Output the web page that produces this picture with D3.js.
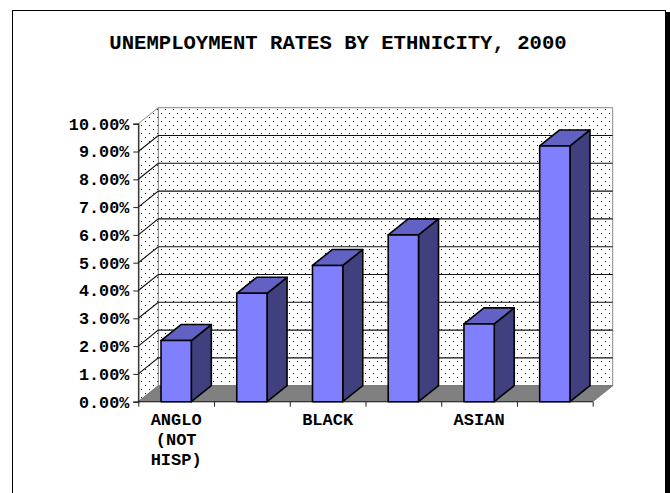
<!DOCTYPE html>
<html>
<head>
<meta charset="utf-8">
<script src="https://cdn.jsdelivr.net/npm/d3@7"></script>
<style>
  html, body { margin: 0; padding: 0; background: #fff; }
  svg { display: block; }
  text { font-family: "Liberation Mono", "Courier New", monospace; font-weight: bold; fill: #000; }
</style>
</head>
<body>
<script>
// Unemployment rate per ethnic group (fraction), in drawing order
const rates = [0.022, 0.039, 0.049, 0.060, 0.028, 0.092];
// Category axis labels (one list of lines per column; empty = label not shown)
const categoryLabels = [["ANGLO", "(NOT", "HISP)"], [], ["BLACK"], [], ["ASIAN"], []];
// Value axis ticks
const yTicks = [0, 0.01, 0.02, 0.03, 0.04, 0.05, 0.06, 0.07, 0.08, 0.09, 0.10];
const title = "UNEMPLOYMENT RATES BY ETHNICITY, 2000";

const W = 670, H = 493;
const depthX = 20, depthY = -16;   // oblique offset of the back plane

const svg = d3.select("body").append("svg").attr("width", W).attr("height", H);

// dotted fill for the walls
const defs = svg.append("defs");
const pat = defs.append("pattern").attr("id", "dots")
  .attr("patternUnits", "userSpaceOnUse").attr("width", 8).attr("height", 8);
pat.append("rect").attr("width", 8).attr("height", 8).attr("fill", "#fff");
pat.append("rect").attr("x", 1).attr("y", 1).attr("width", 1).attr("height", 1).attr("fill", "#111");
pat.append("rect").attr("x", 5).attr("y", 5).attr("width", 1).attr("height", 1).attr("fill", "#111");

// chart frame with shadow on the right
svg.append("rect").attr("x", 666).attr("y", 12).attr("width", 4).attr("height", H).attr("fill", "#000");
svg.append("rect").attr("x", 12.5).attr("y", 10.5).attr("width", 653).attr("height", H + 10)
  .attr("fill", "none").attr("stroke", "#000").attr("stroke-width", 1);

svg.append("text").attr("x", 338).attr("y", 48.5).attr("text-anchor", "middle")
  .style("font-size", "20.6px").text(title);

const idx = d3.range(rates.length);
const x = d3.scaleBand().domain(idx).range([138.3, 592.7]).padding(0);
const y = d3.scaleLinear().domain([0, 0.10]).range([401.7, 123.7]);
const xEdge = d3.scaleLinear().domain([0, rates.length]).range([138.3, 592.7]);

const x0 = xEdge(0), x1 = xEdge(rates.length);
const yb = y(0), yt = y(0.10);
const pts = a => a.map(p => p.join(",")).join(" ");

// back wall
svg.append("polygon")
  .attr("points", pts([[x0 + depthX, yt + depthY], [x1 + depthX, yt + depthY], [x1 + depthX, yb + depthY], [x0 + depthX, yb + depthY]]))
  .attr("fill", "url(#dots)").attr("stroke", "#888").attr("stroke-width", 1);
// side wall
svg.append("polygon")
  .attr("points", pts([[x0, yb], [x0, yt], [x0 + depthX, yt + depthY], [x0 + depthX, yb + depthY]]))
  .attr("fill", "url(#dots)").attr("stroke", "#888").attr("stroke-width", 1);
// floor
svg.append("polygon")
  .attr("points", pts([[x0, yb], [x1, yb], [x1 + depthX, yb + depthY], [x0 + depthX, yb + depthY]]))
  .attr("fill", "#808080").attr("stroke", "#777").attr("stroke-width", 1);

// gridlines across side and back walls
const grid = svg.append("g").attr("fill", "none").attr("stroke", "#111").attr("stroke-width", 1.1);
yTicks.filter(t => t > 0 && t < 0.10).forEach(t => {
  grid.append("polyline")
    .attr("points", pts([[x0, y(t)], [x0 + depthX, y(t) + depthY], [x1 + depthX, y(t) + depthY]]));
});

// value axis
const yAxis = d3.axisLeft(y).tickValues(yTicks).tickFormat(d3.format(".2%")).tickSize(5).tickPadding(4);
const gy = svg.append("g").attr("transform", `translate(${x0},0)`).call(yAxis);
gy.select(".domain").attr("stroke", "#222").attr("stroke-width", 1.2);
gy.selectAll(".tick line").attr("stroke", "#222");
gy.selectAll(".tick text").style("font-size", "16.8px")
  .style("font-family", "Liberation Mono").style("font-weight", "bold").attr("fill", "#000");

// category axis: baseline and ticks at column boundaries
const xAxis = d3.axisBottom(xEdge).tickValues(d3.range(rates.length + 1)).tickSize(5).tickFormat("");
const gx = svg.append("g").attr("transform", `translate(0,${yb})`).call(xAxis);
gx.select(".domain").attr("stroke", "#222").attr("stroke-width", 1).attr("d", `M${x0},0H${x1}`);
gx.selectAll(".tick line").attr("stroke", "#222");

// category labels
categoryLabels.forEach((lines, i) => {
  const cx = x(i) + x.bandwidth() / 2;
  lines.forEach((s, j) => {
    svg.append("text").attr("x", cx).attr("y", 425 + j * 20)
      .attr("text-anchor", "middle").style("font-size", "17px").text(s);
  });
});

// 3D columns
const bw = x.bandwidth() * 0.4;
const bars = svg.append("g").attr("stroke", "#000").attr("stroke-width", 1.6).attr("stroke-linejoin", "round");
rates.forEach((v, i) => {
  const l = x(i) + (x.bandwidth() - bw) / 2, r = l + bw;
  const top = y(v), bot = y(0);
  // side
  bars.append("polygon")
    .attr("points", pts([[r, bot], [r, top], [r + depthX, top + depthY], [r + depthX, bot + depthY]]))
    .attr("fill", "#40407f");
  // top
  bars.append("polygon")
    .attr("points", pts([[l, top], [r, top], [r + depthX, top + depthY], [l + depthX, top + depthY]]))
    .attr("fill", "#6262c4");
  // front
  bars.append("rect").attr("x", l).attr("y", top).attr("width", bw).attr("height", bot - top)
    .attr("fill", "#8080ff");
});
</script>
</body>
</html>
